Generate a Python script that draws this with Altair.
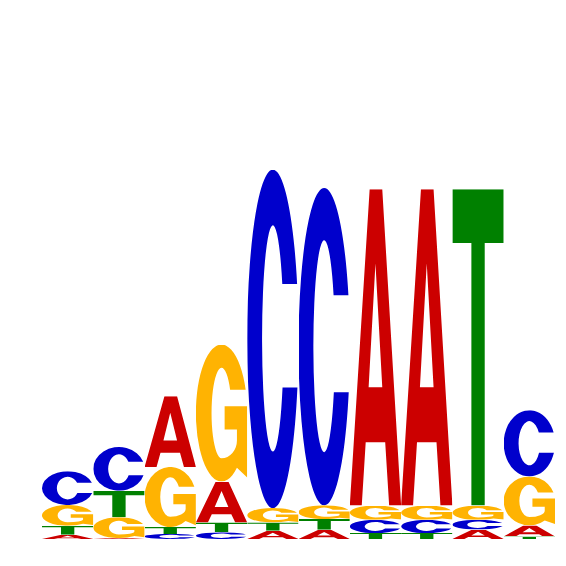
import urllib.parse
import altair as alt
import pandas as pd

# Sequence logo: letter heights (bits) per position
positions = list(range(1, 11))
A_bits = [0.017, 0.004, 0.277, 0.160, 0.032, 0.036, 1.238, 1.238, 0.037, 0.043]
C_bits = [0.132, 0.171, 0.020, 0.026, 1.325, 1.242, 0.052, 0.052, 0.038, 0.259]
G_bits = [0.081, 0.081, 0.235, 0.536, 0.056, 0.054, 0.056, 0.056, 0.056, 0.192]
T_bits = [0.035, 0.104, 0.027, 0.039, 0.033, 0.042, 0.023, 0.023, 1.238, 0.010]

letters = ["A", "C", "G", "T"]
colors = {"A": "#CC0000", "C": "#0000CC", "G": "#FFB302", "T": "#008000"}

# glyph outlines in a 100x100 box (stretched to fill each stack cell)
glyphs = {
    "A": "M0 100 L38.7 0 L63.3 0 L100 100 L76.7 100 L69 80 L31 80 L23.3 100 Z "
         "M36.7 62.6 L63.3 62.6 L50 23.5 Z",
    "C": "M97.3 33.8 A50 50 0 1 0 97.9 64.4 L68.9 64.4 "
         "A21 33.4 0 1 1 68.4 33.8 Z",
    "G": "M97 33 A50 50 0 1 0 80 90 L100 97 L100 45 L56 45 L56 62 L80 62 L80 70 "
         "A30 13 0 0 1 50 83 A19.5 33 0 1 1 66.7 33 Z",
    "T": "M0 0 L100 0 L100 17 L63 17 L63 100 L37 100 L37 17 L0 17 Z",
}


def glyph_url(letter):
    svg = ('<svg xmlns="http://www.w3.org/2000/svg" width="100" height="100" '
           'viewBox="0 0 100 100" preserveAspectRatio="none">'
           f'<path d="{glyphs[letter]}" fill="{colors[letter]}" fill-rule="evenodd"/></svg>')
    return "data:image/svg+xml;charset=utf-8," + urllib.parse.quote(svg)


heights = {"A": A_bits, "C": C_bits, "G": G_bits, "T": T_bits}
rows = []
for i, p in enumerate(positions):
    stack = sorted(letters, key=lambda l: heights[l][i])
    base = 0.0
    for l in stack:
        h = heights[l][i]
        rows.append({"pos": p, "x0": p - 0.5, "x1": p + 0.5,
                     "y0": base, "y1": base + h, "letter": l,
                     "url": glyph_url(l)})
        base += h
df = pd.DataFrame(rows)

chart = alt.Chart(df).mark_image(aspect=False).encode(
    x=alt.X("x0:Q", scale=alt.Scale(domain=[0.5, 10.5], nice=False, zero=False), axis=None),
    x2="x1:Q",
    y=alt.Y("y0:Q", scale=alt.Scale(domain=[0, 2], nice=False), axis=None),
    y2="y1:Q",
    url="url:N",
).properties(
    width=513,
    height=511,
    padding={"left": 34, "top": 20, "right": 0, "bottom": 0},
    autosize=alt.AutoSizeParams(type="none"),
).configure_view(stroke=None)

chart.save("out.html", embed_options={"renderer": "svg", "actions": False})
